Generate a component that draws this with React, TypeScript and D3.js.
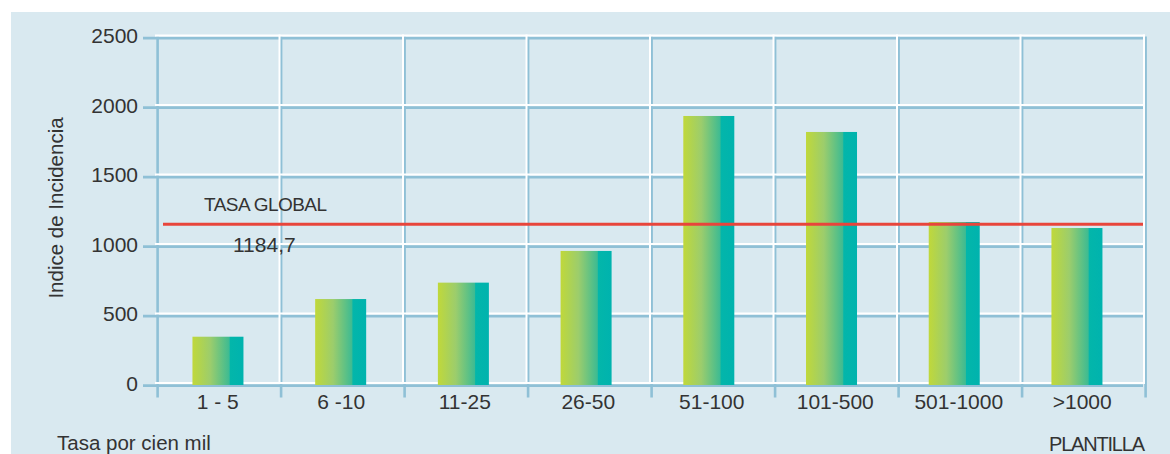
import React from 'react';
import * as d3 from 'd3';

const categories: string[] = ['1 - 5', '6 -10', '11-25', '26-50', '51-100', '101-500', '501-1000', '>1000'];
const values: number[] = [333, 604, 722, 950, 1921, 1806, 1158, 1115];
const yTicks: number[] = [0, 500, 1000, 1500, 2000, 2500];
const globalRateLine: number = 1142;
const globalRateLabel: string = '1184,7';
const globalRateTitle: string = 'TASA GLOBAL';
const yTitle: string = 'Indice de Incidencia';
const xTitleLeft: string = 'Tasa por cien mil';
const xTitleRight: string = 'PLANTILLA';

const W = 1170;
const H = 454;
const FONT = '"Liberation Sans", Arial, sans-serif';
const TEXT = '#333333';
const BLUE = '#8fc0d6';
const BG = '#d9e9f0';

export default function App() {
  const x = d3.scaleBand<string>().domain(categories).range([155, 1143]).padding(0);
  const xBar = d3.scaleBand<string>().domain(categories).range([156.6, 1138.3]).padding(0);
  const y = d3.scaleLinear().domain([0, 2500]).range([383, 35.5]);
  const edges = [...categories.map((c) => x(c) as number), x.range()[1]];
  const barW = 51;
  const y0 = y(0);
  const yTop = y(2500);

  return (
    <svg width={W} height={H} style={{ position: 'absolute', left: 0, top: 0, display: 'block' }}>
      <defs>
        <linearGradient id="barGrad" x1="0" x2="1" y1="0" y2="0">
          <stop offset="0" stopColor="#c0d83a" />
          <stop offset="0.35" stopColor="#9ccd6c" />
          <stop offset="0.72" stopColor="#3ebb92" />
          <stop offset="0.74" stopColor="#03b6aa" />
          <stop offset="1" stopColor="#00b3ae" />
        </linearGradient>
      </defs>
      <rect x={0} y={0} width={W} height={H} fill="#ffffff" />
      <rect x={11} y={12} width={W - 11} height={H - 12} fill={BG} />

      {/* blue shadow lines */}
      {yTicks.map((t) => (
        <line key={'hb' + t} x1={143} x2={1143} y1={y(t) + 2.6} y2={y(t) + 2.6} stroke={BLUE} strokeWidth={2.6} />
      ))}
      {edges.map((e, i) => (
        <line key={'vb' + i} x1={e + 2.6} x2={e + 2.6} y1={yTop + 1} y2={397.5} stroke={BLUE} strokeWidth={2.6} />
      ))}
      {/* white lines */}
      {yTicks.map((t) => (
        <line key={'hw' + t} x1={155} x2={1145} y1={y(t)} y2={y(t)} stroke="#ffffff" strokeWidth={2} />
      ))}
      {edges.slice(1).map((e, i) => (
        <line key={'vw' + i} x1={e + 1} x2={e + 1} y1={yTop - 1} y2={y0 + 1} stroke="#ffffff" strokeWidth={2} />
      ))}

      {/* bars */}
      {categories.map((c, i) => (
        <rect
          key={'bar' + c}
          x={(xBar(c) as number) + xBar.bandwidth() / 2 - barW / 2}
          y={y(values[i])}
          width={barW}
          height={y0 + 2 - y(values[i])}
          fill="url(#barGrad)"
        />
      ))}

      {/* global rate line */}
      <line x1={163} x2={1143} y1={y(globalRateLine)} y2={y(globalRateLine)} stroke="#e8453b" strokeWidth={2.8} />

      {/* y tick labels */}
      {yTicks.map((t) => (
        <text key={'yl' + t} x={138} y={y(t) + 7.5} textAnchor="end" fontFamily={FONT} fontSize={21} fill={TEXT}>
          {t}
        </text>
      ))}

      {/* x labels */}
      {categories.map((c) => (
        <text
          key={'xl' + c}
          x={(x(c) as number) + x.bandwidth() / 2 + 1}
          y={409}
          textAnchor="middle"
          fontFamily={FONT}
          fontSize={21}
          fill={TEXT}
        >
          {c}
        </text>
      ))}

      <text x={204} y={211} fontFamily={FONT} fontSize={19} textLength={123} fill={TEXT}>
        {globalRateTitle}
      </text>
      <text x={233} y={252} fontFamily={FONT} fontSize={21} fill={TEXT}>
        {globalRateLabel}
      </text>

      <text
        transform="translate(63,208) rotate(-90)"
        textAnchor="middle"
        fontFamily={FONT}
        fontSize={20.5}
        fill={TEXT}
      >
        {yTitle}
      </text>

      <text x={57} y={450} fontFamily={FONT} fontSize={20.5} fill={TEXT}>
        {xTitleLeft}
      </text>
      <text x={1145} y={451} textAnchor="end" fontFamily={FONT} fontSize={20} textLength={96} fill={TEXT}>
        {xTitleRight}
      </text>
    </svg>
  );
}
